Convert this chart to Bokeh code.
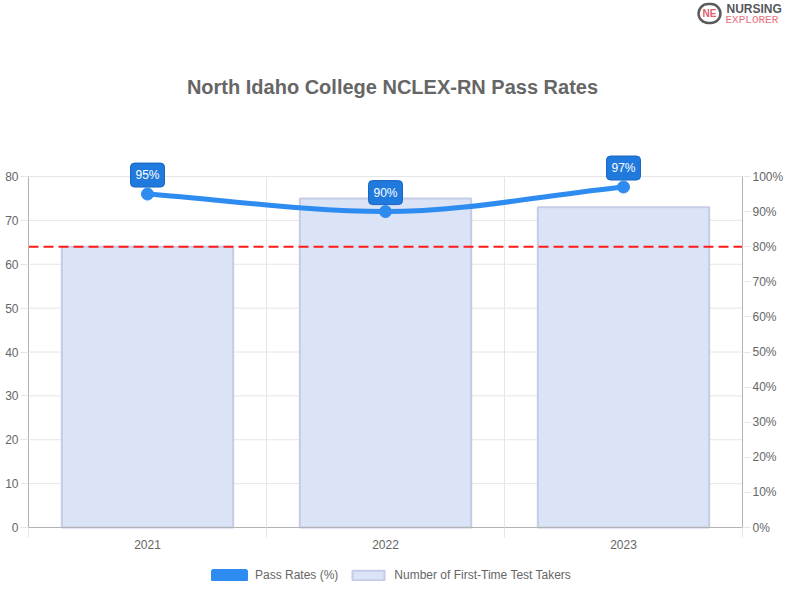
from bokeh.plotting import figure
from bokeh.models import (Range1d, LinearAxis, FixedTicker, Label, Legend,
                          LegendItem, PrintfTickFormatter, CustomJSTickFormatter)
from bokeh.embed import file_html
from bokeh.resources import INLINE
from bokeh.core.properties import value

# ---------------- data ----------------
years = ["2021", "2022", "2023"]
pass_rates = [95, 90, 97]          # %
test_takers = [64, 75, 73]         # count
benchmark = 80                     # % reference line
left_ticks = [0, 10, 20, 30, 40, 50, 60, 70, 80]
right_ticks = [0, 10, 20, 30, 40, 50, 60, 70, 80, 90, 100]
title_text = "North Idaho College NCLEX-RN Pass Rates"

# ---------------- style / layout ----------------
FONT = "Liberation Sans"
GRID = "#e6e6e6"
AXIS = "#b3b3b3"
TXT = "#666666"
BLUE = "#2e8cf0"
BAR_FILL = "#dbe4f7"
BAR_LINE = "#c6cbe6"

W, H = 784, 584
# pixel box of the chart area inside the canvas (frame covers whole canvas,
# axes are pinned to the chart-area edges with fixed_location)
AX_L, AX_R = 28, 742
AX_B, AX_T = 527, 176

n = len(years)
xc = [i + 0.5 for i in range(n)]
y_max = left_ticks[-1]
p_max = right_ticks[-1]


def px2x(px):
    return (px - AX_L) / (AX_R - AX_L) * n


def px2y(py, top=y_max):
    return (AX_B - py) / (AX_B - AX_T) * top


p = figure(width=W, height=H, output_backend="svg", toolbar_location=None,
           x_range=Range1d(px2x(0), px2x(W)),
           y_range=Range1d(px2y(H), px2y(0)),
           min_border=0, outline_line_color=None,
           x_axis_type=None, y_axis_type=None)
p.extra_y_ranges = {"pct": Range1d(px2y(H, p_max), px2y(0, p_max))}

# grid lines (from the tick lists)
p.segment(x0=[0] * len(left_ticks), x1=[n] * len(left_ticks),
          y0=left_ticks, y1=left_ticks, line_color=GRID, line_width=1,
          level="underlay")
bounds_x = list(range(1, n))
p.segment(x0=bounds_x, x1=bounds_x, y0=[0] * len(bounds_x),
          y1=[y_max] * len(bounds_x), line_color=GRID, line_width=1,
          level="underlay")

# axes
xaxis = LinearAxis(
    fixed_location=0, bounds=(0, n),
    ticker=FixedTicker(ticks=xc, minor_ticks=list(range(n + 1))),
    formatter=CustomJSTickFormatter(args=dict(cats=years),
                                    code="return cats[Math.floor(tick)];"),
    axis_line_color=AXIS, major_tick_line_color=None, major_tick_out=0,
    major_tick_in=0, minor_tick_line_color=GRID, minor_tick_out=10,
    minor_tick_in=0, major_label_standoff=2,
    major_label_text_font=FONT, major_label_text_font_size="12px",
    major_label_text_color=TXT)
p.add_layout(xaxis, "below")

yl = LinearAxis(
    fixed_location=0, ticker=FixedTicker(ticks=left_ticks),
    bounds=(left_ticks[0], y_max), axis_line_color=AXIS,
    major_tick_line_color=GRID, major_tick_out=8, major_tick_in=0,
    minor_tick_line_color=None, major_label_standoff=2,
    major_label_text_font=FONT, major_label_text_font_size="12px",
    major_label_text_color=TXT)
p.add_layout(yl, "left")

yr = LinearAxis(
    fixed_location=n, y_range_name="pct", ticker=FixedTicker(ticks=right_ticks),
    bounds=(right_ticks[0], p_max),
    formatter=PrintfTickFormatter(format="%d%%"), axis_line_color=AXIS,
    major_tick_line_color=GRID, major_tick_out=8, major_tick_in=0,
    minor_tick_line_color=None, major_label_standoff=2,
    major_label_text_font=FONT, major_label_text_font_size="12px",
    major_label_text_color=TXT)
p.add_layout(yr, "right")

# bars
bars = p.vbar(x=xc, top=test_takers, bottom=0, width=0.72,
              fill_color=BAR_FILL, line_color=BAR_LINE, line_width=2)

# benchmark line
p.segment(x0=[0], x1=[n], y0=[benchmark], y1=[benchmark], y_range_name="pct",
          line_color="#ff1a1a", line_dash="10 5", line_width=2)

# monotone cubic curve through pass rates (bezier rendering)
dxs = [xc[i + 1] - xc[i] for i in range(n - 1)]
deltas = [(pass_rates[i + 1] - pass_rates[i]) / dxs[i] for i in range(n - 1)]
m = [0.0] * n
m[0] = deltas[0]
m[-1] = deltas[-1]
for i in range(1, n - 1):
    if deltas[i - 1] * deltas[i] <= 0:
        m[i] = 0.0
    else:
        m[i] = (deltas[i - 1] + deltas[i]) / 2
cx0 = [xc[i] + dxs[i] / 3 for i in range(n - 1)]
cy0 = [pass_rates[i] + m[i] * dxs[i] / 3 for i in range(n - 1)]
cx1 = [xc[i + 1] - dxs[i] / 3 for i in range(n - 1)]
cy1 = [pass_rates[i + 1] - m[i + 1] * dxs[i] / 3 for i in range(n - 1)]
p.bezier(x0=xc[:-1], y0=pass_rates[:-1], x1=xc[1:], y1=pass_rates[1:],
         cx0=cx0, cy0=cy0, cx1=cx1, cy1=cy1,
         line_color=BLUE, line_width=5, y_range_name="pct")
p.scatter(x=xc, y=pass_rates, size=12, fill_color=BLUE, line_color=BLUE,
          y_range_name="pct")

# data labels
p.text(x=xc, y=pass_rates, text=[f"{v}%" for v in pass_rates],
       y_range_name="pct", y_offset=-19, text_align="center",
       text_baseline="middle", text_color="white", text_font=value(FONT),
       text_font_size="12px", background_fill_color="#2079dc",
       border_line_color="#1a66c0", border_line_width=1, border_radius=4,
       padding=5)

# legend (proxy swatch for the line series, not drawn itself)
proxy = p.vbar(x=xc, top=pass_rates, width=0.5, fill_color=BLUE,
               line_color=BLUE, line_width=5, y_range_name="pct", visible=False)
legend = Legend(items=[LegendItem(label="Pass Rates (%)", renderers=[proxy]),
                       LegendItem(label="Number of First-Time Test Takers",
                                  renderers=[bars])],
                orientation="horizontal", location=(209, 2),
                glyph_width=40, glyph_height=12, label_height=12,
                label_standoff=6, spacing=10, padding=0, margin=0,
                border_line_color=None, background_fill_alpha=0,
                label_text_font=FONT, label_text_font_size="12px",
                label_text_color=TXT)
p.add_layout(legend, "center")

# title
p.add_layout(Label(x=px2x(392), y=px2y(86), text=title_text,
                   text_align="center", text_baseline="middle",
                   text_font=FONT, text_font_size="20px", text_font_style="bold",
                   text_color=TXT))

# logo
p.add_layout(Label(x=px2x(709), y=px2y(13), text="NE",
                   text_align="center", text_baseline="middle", text_font=FONT,
                   text_font_size="10px", text_font_style="bold",
                   text_color="#e0606e", border_line_color="#5a5a5a",
                   border_line_width=2.5, border_radius=10, padding=4))
p.add_layout(Label(x=px2x(726), y=px2y(8), text="NURSING",
                   text_align="left", text_baseline="middle",
                   text_font=FONT, text_font_size="12px", text_font_style="bold",
                   text_color="#56585c"))
p.add_layout(Label(x=px2x(725), y=px2y(19), text="EXPLORER",
                   text_align="left", text_baseline="middle",
                   text_font="Liberation Mono", text_font_size="11px",
                   text_color="#e8707e"))

open("out.html", "w").write(file_html(p, INLINE))
